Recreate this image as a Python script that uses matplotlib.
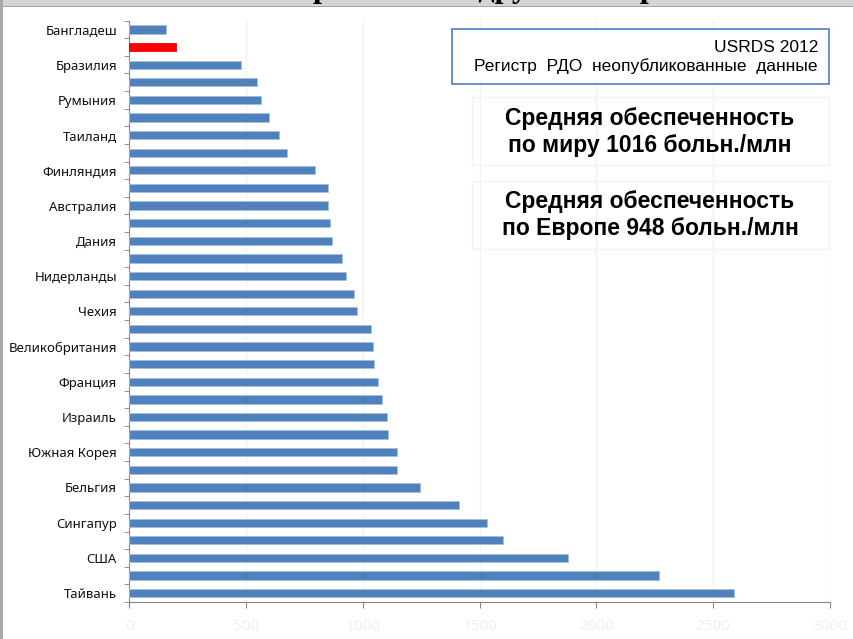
import matplotlib.pyplot as plt
from matplotlib.patches import Rectangle

# countries from top to bottom; empty label = bar whose label is skipped on the axis
countries = ["Бангладеш", "", "Бразилия", "", "Румыния", "", "Таиланд", "",
             "Финляндия", "", "Австралия", "", "Дания", "", "Нидерланды", "",
             "Чехия", "", "Великобритания", "", "Франция", "", "Израиль", "",
             "Южная Корея", "", "Бельгия", "", "Сингапур", "", "США", "", "Тайвань"]
values = [157, 200, 477, 546, 562, 597, 639, 674, 793, 850, 850, 859, 866, 911,
          927, 960, 974, 1033, 1041, 1047, 1064, 1080, 1103, 1106, 1146, 1146,
          1243, 1410, 1530, 1599, 1876, 2266, 2591]
highlight = 1  # red bar
xticks = [0, 500, 1000, 1500, 2000, 2500, 3000]

source_text = "USRDS 2012\nРегистр  РДО  неопубликованные  данные"
world_text = "Средняя обеспеченность\nпо миру 1016 больн./млн"
europe_text = "Средняя обеспеченность\nпо Европе 948 больн./млн"
title = "Сравнение с другими странами"

n = min(len(countries), len(values))
countries = countries[:n]
values = values[:n]

fig = plt.figure(figsize=(8.54, 6.39), dpi=100)
ax = fig.add_axes([129.5 / 854, 1 - 602 / 639, 700.5 / 854, (602 - 20.6) / 639])

pos = list(range(n))
colors = ["#4F81BD"] * n
colors[highlight] = "#FF0000"
ax.barh(pos, values, height=0.47, color=colors, edgecolor="#A7BFDE", linewidth=0.6, zorder=3)
ax.patches[highlight].set_edgecolor("#FF0000")

ax.set_ylim(n - 0.5, -0.5)
ax.set_yticks(pos)
ax.set_yticklabels(countries, fontsize=9.5, family="Noto Sans", color="#111111")
ax.set_yticks([p - 0.5 for p in pos] + [n - 0.5], minor=True)
ax.tick_params(axis="y", which="major", length=0, pad=9)
ax.tick_params(axis="y", which="minor", length=3.5, color="#868686", direction="out")

ax.set_xlim(0, 3000)
ax.set_xticks(xticks)
ax.set_xticklabels([str(t) for t in xticks], fontsize=11, color="#F0F0F0", family="Noto Sans")
ax.tick_params(axis="x", length=4, color="#868686", pad=8)
ax.grid(axis="x", color="#F3F3F3", linewidth=1, zorder=0)

for s in ["top", "right"]:
    ax.spines[s].set_visible(False)
ax.spines["left"].set_color("#868686")
ax.spines["bottom"].set_color("#868686")

# text boxes
fig.add_artist(Rectangle((452 / 854, 1 - 84 / 639), 377 / 854, 55 / 639,
                         transform=fig.transFigure, fc="white", ec="#4A7FD0", lw=1.2, zorder=1))
fig.add_artist(Rectangle((472 / 854, 1 - 165 / 639), 357 / 854, 68 / 639,
                         transform=fig.transFigure, fc="none", ec="#F2F2F2", lw=1, zorder=1))
fig.add_artist(Rectangle((472 / 854, 1 - 249 / 639), 357 / 854, 68 / 639,
                         transform=fig.transFigure, fc="none", ec="#F2F2F2", lw=1, zorder=1))
fig.text(818 / 854, 1 - 57 / 639, source_text, ha="right", va="center", fontsize=12.5,
         family="Liberation Sans", linespacing=1.2, zorder=2)
fig.text(650 / 854, 1 - 132 / 639, world_text, ha="center", va="center", fontsize=16.5,
         weight="bold", family="Liberation Sans", linespacing=1.25, zorder=2)
fig.text(650 / 854, 1 - 215 / 639, europe_text, ha="center", va="center", fontsize=16.5,
         weight="bold", family="Liberation Sans", linespacing=1.25, zorder=2)

# slide frame with the clipped title
fig.add_artist(Rectangle((0, 1 - 6 / 639), 1, 6 / 639, transform=fig.transFigure,
                         fc="#D4D4D4", ec="none", zorder=4))
fig.add_artist(Rectangle((0, 1 - 7 / 639), 1, 1 / 639, transform=fig.transFigure,
                         fc="#A8A8A8", ec="none", zorder=4))
fig.add_artist(Rectangle((0, 0), 2.5 / 854, 1, transform=fig.transFigure,
                         fc="#A8A8A8", ec="none", zorder=4))
fig.text(290 / 854, 1 + 2.5 / 639, title, ha="left", va="baseline", fontsize=23,
         weight="bold", family="Liberation Serif", zorder=5)

fig.savefig("out.png", dpi=100)
